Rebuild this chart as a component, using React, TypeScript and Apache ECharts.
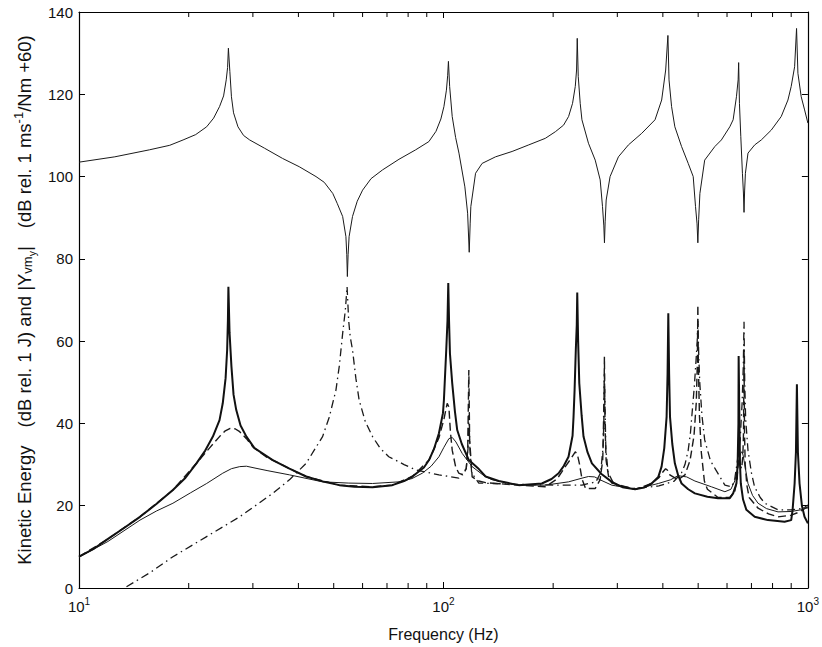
import React, { useEffect, useRef } from "react";
import * as echarts from "echarts";

// ---- Data (frequency in Hz, level in dB) ----
const mobility: [number, number][] = [
  [10, 103.5], [12.54, 104.8], [15.6, 106.5], [17.74, 107.6], [19.3, 108.9], [20.9, 110.2],
  [22.4, 112.1], [23.41, 114.2], [24.3, 117], [24.93, 119.6], [25.35, 123.5], [25.57, 126.5],
  [25.7, 131.2], [25.94, 125.5], [26.2, 119.4], [26.55, 115.5], [27.3, 112.1], [28.28, 110.0],
  [29.4, 108.9], [32.28, 106.9], [36.2, 104.4], [40.2, 102.4], [44.7, 100], [47.1, 98.6],
  [49.7, 95.9], [51.1, 93.5], [52.9, 90.3], [54.0, 85.4], [54.3, 81], [54.5, 75.7], [54.75, 81],
  [55.1, 85.4], [56.3, 90.3], [58.0, 94], [60, 96.7], [63.3, 99.5], [68, 101.6], [75.5, 104.2],
  [83.9, 106.5], [91.2, 108.5], [95.4, 111], [98.4, 114], [100.3, 117], [101.9, 121],
  [102.7, 124.5], [103.2, 128], [104.0, 121.9], [105.7, 114.6], [108, 109.5], [110.3, 105.7],
  [114.5, 97.5], [116.5, 91.1], [117.7, 81.6], [118.4, 88.5], [118.9, 92.7], [122.5, 100.8],
  [127.7, 103.2], [139, 104.8], [154.3, 106.1], [171.4, 107.7], [190.4, 109.3], [202.8, 110.9],
  [213.6, 112.5], [220.5, 114.6], [226.1, 117.8], [230, 121.9], [231.9, 125.9], [232.9, 133.6],
  [234.4, 124.3], [237.3, 117.8], [239.9, 113.8], [250, 108.1], [260.9, 104], [269.2, 99.2],
  [273.2, 92.7], [275.5, 88], [276.6, 83.9], [277.8, 89], [279.6, 94.3], [286.6, 100],
  [302.1, 104.8], [321.8, 107.7], [349.9, 110.5], [380.7, 113.8], [397, 118.6], [407.2, 125.9],
  [413, 134.3], [415.9, 123.5], [422.7, 117], [431.5, 112.1], [450.2, 107.3], [469.5, 103.2],
  [484.6, 100], [491.7, 92.7], [496.5, 88.5], [499, 83.9], [501.5, 89.5], [505.5, 95.9],
  [521, 104], [555.5, 107.3], [579, 108.9], [610.6, 112.1], [623.6, 113.8], [636.8, 119.4],
  [643.6, 123.5], [645.7, 127.7], [649, 117.8], [654.6, 109.7], [661.3, 100.8], [665.5, 96],
  [668, 91.3], [670.5, 96.5], [673.9, 100.8], [685, 105.7], [714.6, 107.7], [745, 108.9],
  [793.5, 111.3], [845, 114.6], [881.6, 118.6], [900, 121.9], [919.6, 126.7], [931, 136],
  [939, 125.1], [958.8, 119.4], [979.5, 116.2], [1000, 113],
];

const energyThick: [number, number][] = [
  [10, 7.6], [11, 9.6], [11.9, 11.7], [13.2, 14.4], [14.7, 17.3], [16.3, 20.4], [18.1, 23.8],
  [19.6, 26.8], [21, 30.3], [22.2, 33.4], [23.3, 36.8], [24.3, 40.8], [24.8, 44.9], [25.25, 51],
  [25.5, 57.9], [25.62, 65], [25.7, 73.2], [25.89, 62], [26.2, 53.8], [26.55, 47], [27, 43.3],
  [27.75, 39.5], [28.8, 36.8], [30.3, 34], [34, 31.1], [37.8, 29], [42, 27.1], [47.1, 25.8],
  [51.8, 25], [57, 24.6], [63.9, 24.5], [72.4, 25], [78, 26], [82.2, 27.1], [88.4, 29.3],
  [91.3, 31.1], [94.2, 33.8], [97.2, 37.6], [99.7, 42.5], [100.3, 45.7], [101.8, 57.9],
  [102.6, 65], [103.1, 74.1], [103.6, 65], [104.2, 57], [105.7, 49.8], [107.5, 43], [109.1, 38.4],
  [112.3, 35], [117.4, 31.1], [125.1, 28.9], [130.5, 27.1], [141.8, 26], [160.9, 25],
  [186.2, 25.4], [198, 26.5], [207, 27.9], [214, 29.7], [220.4, 31.9], [226.1, 37], [227.5, 41.6],
  [229, 48], [230.8, 57.9], [232.2, 64], [232.9, 71.8], [234.2, 60], [235.9, 49.8], [239.4, 42],
  [242.3, 36.8], [248.5, 33], [255.5, 30.3], [271.4, 27.7], [289.7, 25.8], [310, 24.5],
  [335.7, 24], [355, 24.4], [372.6, 25.4], [388.7, 27], [396.8, 29.5], [403.6, 34], [409.6, 41.6],
  [412.1, 52], [414, 66.8], [416.2, 52], [418.5, 41.6], [424.6, 35], [431.5, 30.3], [440.9, 27.3],
  [450.3, 25.4], [469.5, 24], [489.8, 23], [530, 22.2], [567, 21.8], [610.6, 21.8], [623.6, 23],
  [636.8, 25.4], [641.5, 30], [644.8, 40], [645.7, 56.4], [649, 40], [651.3, 30], [654.6, 25.4],
  [664, 21.5], [678, 19], [714.5, 17.3], [777, 16.5], [863, 16.1], [900, 16.5], [908, 19],
  [919.6, 25.4], [927.3, 33], [933, 49.5], [939, 33], [948.7, 25.4], [963, 20], [979, 17.3],
  [1000, 15.7],
];

const energyThin: [number, number][] = [
  [10, 7.5], [12, 11.3], [14.7, 16.5], [16.3, 18.7], [18.1, 20.6], [20.2, 23.1], [22.4, 25.4],
  [24.8, 27.9], [26.2, 29], [27.6, 29.5], [28.8, 29.6], [30.6, 29.1], [33, 28.5], [37.8, 27.5],
  [46.6, 25.8], [55, 25.5], [63.9, 25.4], [75.5, 25.8], [82, 26.6], [87.5, 27.9], [92.5, 29.6],
  [97.2, 31.9], [100.3, 34.2], [103.5, 36.3], [105.7, 36.6], [108.2, 35.5], [112.6, 32.7],
  [119.9, 29.5], [129.1, 27.3], [136, 26.3], [160.9, 25], [190.3, 25], [220.4, 25.8], [240, 26.7],
  [250, 27.1], [260, 27], [269, 26.3], [289.7, 25], [335.7, 24], [388.7, 25.4], [420, 26.3],
  [440, 27.3], [465, 27], [489.8, 26], [543.7, 24.6], [592, 23.4], [615, 24], [630, 26], [642, 29],
  [650, 31.9], [655, 32.9], [659.9, 33.1], [664, 32.3], [668, 31], [685, 25.4], [705, 22.5],
  [730, 20.6], [770, 19.3], [828, 18.5], [900, 18.6], [956, 19], [1000, 20.2],
];

const energyDashed: [number, number][] = [
  [10, 7.6], [11.9, 11.7], [14.7, 17.3], [18.1, 23.8], [21, 30.3], [22.8, 34], [24.3, 36.8],
  [25.2, 38.2], [26, 38.8], [26.8, 38.7], [27.6, 38], [28.8, 36.3], [30, 34.3], [32.6, 31.9],
  [34, 31.1], [37.8, 29], [42, 27.1], [51.8, 25], [63.9, 24.6], [72.4, 25], [82.2, 27.1],
  [91.3, 31.1], [97.2, 36.5], [100.3, 41], [102.4, 44.9], [103.5, 44], [104.5, 38], [105.7, 33.5],
  [108, 29.5], [110.2, 27.9], [113, 27.5], [115.5, 29], [116.6, 34], [117.4, 53], [118, 36],
  [119.9, 27], [125, 26], [130.5, 25.6], [160.9, 25], [190.3, 24.6], [205, 26.5], [216, 29.5],
  [224, 31.5], [230, 33.1], [233, 32.5], [236, 30.3], [240, 26.5], [245.5, 24.2], [261, 24.2],
  [269, 26.3], [273.5, 31], [275.5, 40], [276.5, 56.2], [277.5, 40], [279.5, 31], [284, 27],
  [289.7, 25.5], [335.7, 24], [372.6, 25.4], [390, 26.8], [400, 28.2], [407, 29], [412, 28.6],
  [418, 27.5], [440, 26.3], [460, 27.5], [475, 31], [487, 37], [494, 45], [497.5, 55], [499, 68.8],
  [500.5, 55], [504, 42], [510, 33], [520, 26], [530, 24], [567, 22], [610.6, 22], [630, 23.5],
  [640, 26.5], [645, 33], [650, 30], [658, 29], [663, 32], [666, 38], [668, 58], [670, 38],
  [673, 30], [680, 25], [690, 22], [730, 19.4], [780, 18], [828, 17.3], [900, 17.7], [950, 18.5],
  [1000, 19.8],
];

const energyDashDot: [number, number][] = [
  [13.5, 0.3], [15.7, 3.8], [18.1, 7.6], [22.4, 12.5], [27.6, 17.3], [34, 23], [38, 26.5],
  [42, 30.3], [44.2, 33.5], [46.6, 36.8], [48.6, 41.5], [50.7, 48.1], [51.8, 54], [52.9, 61.9],
  [53.8, 67.5], [54.4, 73.2], [54.95, 65], [55.5, 61], [56.3, 57.9], [57.5, 51], [58.7, 45.7],
  [61, 40.5], [63.9, 36.8], [67, 34], [70.8, 31.9], [78, 30], [84, 28.7], [97.2, 27.5],
  [110.2, 26.7], [115.5, 29], [116.8, 34], [117.4, 42], [118.2, 34], [119.5, 28], [125, 25.5],
  [160.9, 25.2], [200, 25], [240, 25], [262, 25.8], [270, 28], [274, 34], [276.5, 52], [279, 34],
  [283, 28], [295, 25], [335.7, 24.2], [390, 24.8], [430, 26], [450, 28], [460, 30], [469.5, 33.5],
  [476, 37.5], [482, 43.3], [488, 49], [493, 55], [497, 60], [499, 65], [502, 56], [505, 50],
  [512, 42], [521, 36], [540, 31], [559, 28.7], [592, 25], [618, 24.6], [630, 26.5], [643, 31.9],
  [652, 36], [660, 45], [665, 54], [668, 64.7], [671, 50], [675, 41], [685, 33.5], [700, 28],
  [714, 24.6], [740, 22], [762, 20.6], [828, 19], [900, 19], [1000, 19.5],
];

const xTickExponents = [1, 2, 3];
const minorTickFreqs = [20, 30, 40, 50, 60, 70, 80, 90, 200, 300, 400, 500, 600, 700, 800, 900];
const yTickValues = [0, 20, 40, 60, 80, 100, 120, 140];

const FONT = "'Liberation Sans', Arial, Helvetica, sans-serif";
const INK = "#111";

export default function App() {
  const ref = useRef<HTMLDivElement>(null);

  useEffect(() => {
    if (!ref.current) return;
    const chart = echarts.init(ref.current, undefined, { renderer: "svg" });

    const lineBase = {
      type: "line",
      showSymbol: false,
      symbol: "none",
      smooth: false,
      xAxisIndex: 0,
      yAxisIndex: 0,
      silent: true,
      clip: true,
    };

    const frameAxis = {
      axisLine: { show: true, onZero: false, lineStyle: { color: "#000", width: 1.2 } },
      axisTick: { show: true, inside: true, length: 6, lineStyle: { color: "#000", width: 1 } },
      splitLine: { show: false },
    };

    const option: any = {
      animation: false,
      backgroundColor: "#ffffff",
      grid: { left: 79, top: 12, right: 12, bottom: 59 },
      xAxis: [
        {
          type: "log",
          logBase: 10,
          min: 10,
          max: 1000,
          position: "bottom",
          ...frameAxis,
          axisLabel: {
            margin: 8,
            formatter: (v: number) => {
              const e = Math.round(Math.log10(v));
              return xTickExponents.includes(e) ? `{b|10}{s|${e}}` : "";
            },
            rich: {
              b: { fontSize: 15, fontFamily: FONT, color: INK, lineHeight: 20 },
              s: { fontSize: 10, fontFamily: FONT, color: INK, lineHeight: 9, verticalAlign: "top" },
            },
          },
          name: "Frequency (Hz)",
          nameLocation: "middle",
          nameGap: 38,
          nameTextStyle: { fontSize: 16, fontFamily: FONT, color: INK },
        },
        {
          type: "log",
          logBase: 10,
          min: 10,
          max: 1000,
          position: "top",
          ...frameAxis,
          axisLabel: { show: false },
        },
      ],
      yAxis: [
        {
          type: "value",
          min: 0,
          max: 140,
          interval: 20,
          position: "left",
          ...frameAxis,
          axisLabel: {
            margin: 6,
            fontSize: 15,
            fontFamily: FONT,
            color: INK,
            formatter: (v: number) => (yTickValues.includes(v) ? String(v) : ""),
          },
          name:
            "{t|Kinetic Energy}{g| }{t|(dB rel. 1 J) and |Y}{sub|vm}{subsub|y}{t||}{g| }{t|(dB rel. 1 ms}{sup|-1}{t|/Nm +60)}",
          nameLocation: "middle",
          nameGap: 34,
          nameTextStyle: {
            fontFamily: FONT,
            color: INK,
            rich: {
              t: { fontSize: 18.5, fontFamily: FONT, color: INK, lineHeight: 25 },
              g: { fontSize: 18.5, fontFamily: FONT, color: INK, lineHeight: 25, width: 18 },
              sub: { fontSize: 13, fontFamily: FONT, color: INK, lineHeight: 13, verticalAlign: "bottom", padding: [0, 0, 3, 0] },
              subsub: { fontSize: 10.5, fontFamily: FONT, color: INK, lineHeight: 10, verticalAlign: "bottom" },
              sup: { fontSize: 13, fontFamily: FONT, color: INK, lineHeight: 13, verticalAlign: "top" },
            },
          },
        },
        {
          type: "value",
          min: 0,
          max: 140,
          interval: 20,
          position: "right",
          ...frameAxis,
          axisLabel: { show: false },
        },
      ],
      series: [
        { ...lineBase, name: "mobility", data: mobility, lineStyle: { color: "#1a1a1a", width: 1 } },
        {
          ...lineBase,
          name: "dash-dot",
          data: energyDashDot,
          lineStyle: { color: "#1a1a1a", width: 1.3, type: [8, 4, 1.5, 4] },
        },
        {
          ...lineBase,
          name: "dashed",
          data: energyDashed,
          lineStyle: { color: "#1a1a1a", width: 1.4, type: [8, 4] },
        },
        { ...lineBase, name: "thin", data: energyThin, lineStyle: { color: "#1a1a1a", width: 1 } },
        { ...lineBase, name: "thick", data: energyThick, lineStyle: { color: "#111", width: 2 } },
        {
          type: "custom",
          xAxisIndex: 0,
          yAxisIndex: 0,
          silent: true,
          z: 5,
          data: minorTickFreqs.map((f) => [f, 0]),
          renderItem: (_params: any, api: any) => {
            const f = api.value(0);
            const b = api.coord([f, 0]);
            const t = api.coord([f, 140]);
            return {
              type: "group",
              children: [
                { type: "line", shape: { x1: b[0], y1: b[1], x2: b[0], y2: b[1] - 5 }, style: { stroke: "#000", lineWidth: 1 } },
                { type: "line", shape: { x1: t[0], y1: t[1], x2: t[0], y2: t[1] + 5 }, style: { stroke: "#000", lineWidth: 1 } },
              ],
            };
          },
        },
      ],
    };

    chart.setOption(option);
    return () => chart.dispose();
  }, []);

  return (
    <div
      ref={ref}
      style={{ position: "fixed", left: 0, top: 0, width: 822, height: 647, background: "#fff" }}
    />
  );
}
